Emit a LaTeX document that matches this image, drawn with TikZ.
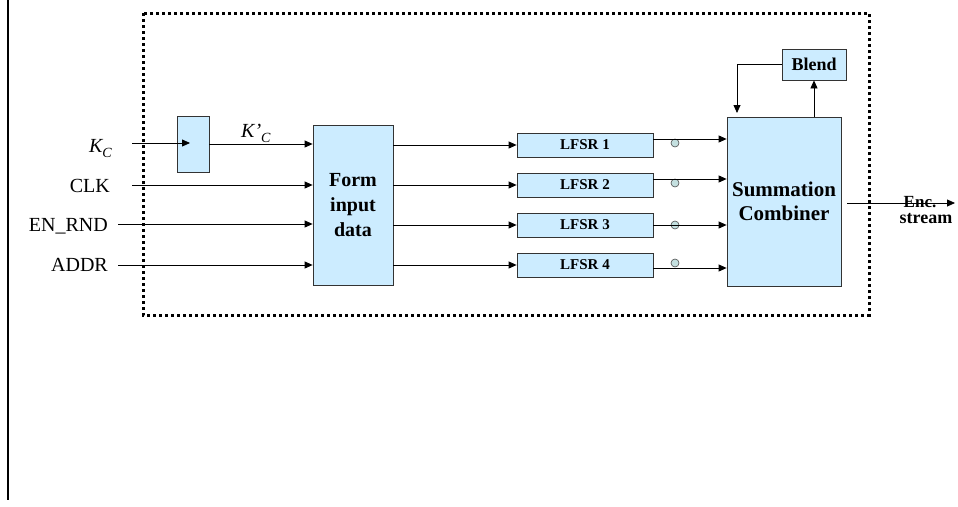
\documentclass[tikz,border=0pt]{standalone}
\usepackage{fontspec}
\setmainfont{Liberation Serif}
\usetikzlibrary{arrows.meta,calc}
\definecolor{boxblue}{RGB}{204,236,255}
\definecolor{circfill}{RGB}{196,224,224}
\begin{document}
\begin{tikzpicture}[x=1pt,y=-1pt,
  box/.style={draw=black!80, fill=boxblue, line width=0.8pt, inner sep=0pt, align=center},
  circ/.style={circle, draw=black!70, fill=circfill, minimum size=8pt, inner sep=0pt, line width=0.6pt},
  arr/.style={-{Triangle[length=8pt,width=7pt]}, line width=0.8pt},
  lbl/.style={font=\fontsize{20}{24}\selectfont, inner sep=0pt},
  frame/.style={line width=3pt, dash pattern=on 3pt off 3pt}
]
\useasboundingbox (0,0) rectangle (958,506);
% left border line
\draw[line width=2.8pt] (8,0) -- (8,500);
% dotted frame
\draw[frame] (143,13) rectangle (869,315);

% blocks
\node[box, minimum width=32pt, minimum height=56pt] (kbox) at (193,144) {};
\node[box, minimum width=80pt, minimum height=160pt, font=\fontsize{20}{25}\selectfont\bfseries] (form) at (353,205) {Form\\input\\data};
\node[box, minimum width=136pt, minimum height=24pt, font=\fontsize{15}{18}\selectfont\bfseries] (l1) at (585,145) {LFSR 1};
\node[box, minimum width=136pt, minimum height=24pt, font=\fontsize{15}{18}\selectfont\bfseries] (l2) at (585,185) {LFSR 2};
\node[box, minimum width=136pt, minimum height=24pt, font=\fontsize{15}{18}\selectfont\bfseries] (l3) at (585,225) {LFSR 3};
\node[box, minimum width=136pt, minimum height=24pt, font=\fontsize{15}{18}\selectfont\bfseries] (l4) at (585,265) {LFSR 4};
\node[box, minimum width=114pt, minimum height=169pt, font=\fontsize{21}{24}\selectfont\bfseries] (sum) at (784,201.5) {Summation\\Combiner};
\node[box, minimum width=64pt, minimum height=31pt, font=\fontsize{18}{20}\selectfont\bfseries] (blend) at (814,64.5) {Blend};

% input labels
\node[lbl, anchor=base east] (kc) at (112,152) {\itshape K\raisebox{-5pt}{\fontsize{14}{14}\selectfont C}};
\node[lbl, anchor=base east] (clk) at (110,192) {CLK};
\node[lbl, anchor=base east] (en) at (108,231) {EN\_RND};
\node[lbl, anchor=base east] (addr) at (108,271) {ADDR};
\node[lbl, anchor=base west] (kpc) at (241,137) {\itshape K’\raisebox{-5pt}{\fontsize{14}{14}\selectfont C}};

% input arrows
\coordinate (kin) at (132,143);
\coordinate (clkin) at (132,185);
\coordinate (enin) at (118,224);
\coordinate (adin) at (118,265);
\draw[arr] (kin) -- ($(kin -| kbox.center)+(-3,0)$);
\draw[arr] (clkin) -- (clkin -| form.west);
\draw[arr] (enin) -- (enin -| form.west);
\draw[arr] (adin) -- (adin -| form.west);
\draw[arr] (kbox.east) -- (kbox.east -| form.west);

% form to LFSRs
\draw[arr] (form.east |- l1.west) -- (l1.west);
\draw[arr] (form.east |- l2.west) -- (l2.west);
\draw[arr] (form.east |- l3.west) -- (l3.west);
\draw[arr] (form.east |- l4.west) -- (l4.west);

% circles
\node[circ] (c1) at (675,143) {};
\node[circ] (c2) at (675,183) {};
\node[circ] (c3) at (675,225) {};
\node[circ] (c4) at (675,263) {};

% LFSRs to combiner
\draw[arr] ([yshift=6pt]l1.east) -- ([yshift=6pt]l1.east -| sum.west);
\draw[arr] ([yshift=6pt]l2.east) -- ([yshift=6pt]l2.east -| sum.west);
\draw[arr] (l3.east) -- (l3.east -| sum.west);
\draw[arr] ([yshift=-3pt]l4.east) -- ([yshift=-3pt]l4.east -| sum.west);

% blend loop
\draw[arr] (blend.south |- sum.north) -- (blend.south);
\coordinate (fb) at (737,113);
\draw[arr] (blend.west) -| (fb);

% output
\coordinate (out) at (955,203);
\draw[arr] ($(sum.east |- out)+(6,0)$) -- (out);
\node[font=\fontsize{17}{20}\selectfont\bfseries, inner sep=0pt] (enc) at (920,202) {Enc.};
\node[font=\fontsize{18}{20}\selectfont\bfseries, inner sep=0pt] (stream) at (926,219) {stream};
\end{tikzpicture}
\end{document}
